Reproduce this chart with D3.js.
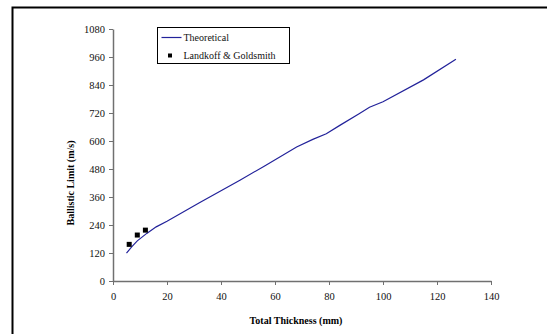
<!DOCTYPE html>
<html>
<head>
<meta charset="utf-8">
<script src="https://cdn.jsdelivr.net/npm/d3@7"></script>
<style>
  body { margin: 0; background: #fff; }
  svg { display: block; font-family: 'Liberation Serif', 'Times New Roman', serif; }
</style>
</head>
<body>
<div id="chart"></div>
<script>
// Theoretical curve: thickness (mm) and ballistic limit (m/s)
const theoThickness = [5, 7, 9, 12.5, 16, 20, 32, 47, 56, 68, 74, 79, 84, 91, 95, 100, 115, 127]
const theoLimit = [119, 147, 172, 204, 232, 256, 335, 432, 492, 574, 607, 631, 667, 716, 745, 768, 862, 950]

// Landkoff & Goldsmith experiments
const expThickness = [6, 9, 12]
const expLimit = [157, 197, 218]

const xTicks = [0, 20, 40, 60, 80, 100, 120, 140]
const yTicks = [0, 120, 240, 360, 480, 600, 720, 840, 960, 1080]

const seriesNames = ['Theoretical', 'Landkoff & Goldsmith']

const totalWidth = 547
const totalHeight = 334
const marginLeft = 113
const marginTop = 29
const plotWidth = 378
const plotHeight = 252
const axeColor = '#707070'
const lineColor = '#22229a'

const svg = d3.select('#chart')
  .append('svg')
  .attr('width', totalWidth)
  .attr('height', totalHeight)

// outer frame (clipped at right and bottom like the original)
svg.append('rect')
  .attr('x', 12.5)
  .attr('y', 7.5)
  .attr('width', 600)
  .attr('height', 400)
  .attr('fill', 'none')
  .attr('stroke', '#000')
  .attr('stroke-width', 2)

const chart = svg.append('g')
  .attr('transform', `translate(${marginLeft},${marginTop})`)

const x = d3.scaleLinear().domain([0, 140]).range([0, plotWidth])
const y = d3.scaleLinear().domain([0, 1080]).range([plotHeight, 0])

const xAxis = chart.append('g')
  .attr('transform', `translate(0,${plotHeight})`)
  .call(d3.axisBottom(x).tickValues(xTicks).tickFormat(d3.format('d')).tickSize(4).tickPadding(8).tickSizeOuter(0))

const yAxis = chart.append('g')
  .call(d3.axisLeft(y).tickValues(yTicks).tickFormat(d3.format('d')).tickSize(4).tickPadding(4).tickSizeOuter(0))

for (const ax of [xAxis, yAxis]) {
  ax.select('.domain').attr('stroke', axeColor).attr('stroke-width', 1.5)
  ax.selectAll('.tick line').attr('stroke', axeColor)
  ax.selectAll('.tick text')
    .attr('fill', '#111')
    .style('font-size', '10.5px')
    .style('font-family', "'Liberation Serif', serif")
}

// axis titles
chart.append('text')
  .attr('x', x(70) - 6)
  .attr('y', plotHeight + 43)
  .attr('text-anchor', 'middle')
  .style('font-size', '10px')
  .style('font-weight', 'bold')
  .text('Total Thickness (mm)')

chart.append('text')
  .attr('transform', `translate(${-39},${y(540) + 28}) rotate(-90)`)
  .attr('text-anchor', 'middle')
  .style('font-size', '10px')
  .style('font-weight', 'bold')
  .text('Ballistic Limit (m/s)')

// theoretical line
const theoData = d3.zip(theoThickness, theoLimit)
chart.append('path')
  .datum(theoData)
  .attr('fill', 'none')
  .attr('stroke', lineColor)
  .attr('stroke-width', 1.2)
  .attr('d', d3.line().x(d => x(d[0])).y(d => y(d[1])))

// experimental points
chart.append('g')
  .selectAll('rect')
  .data(d3.zip(expThickness, expLimit))
  .join('rect')
  .attr('x', d => x(d[0]) - 2.5)
  .attr('y', d => y(d[1]) - 2.5)
  .attr('width', 5)
  .attr('height', 5)
  .attr('fill', '#000')

// legend
const legend = svg.append('g').attr('transform', 'translate(157.5,27.5)')
legend.append('rect')
  .attr('width', 132)
  .attr('height', 36)
  .attr('fill', '#fff')
  .attr('stroke', '#000')
  .attr('stroke-width', 1)

legend.append('line')
  .attr('x1', 4).attr('x2', 24)
  .attr('y1', 10).attr('y2', 10)
  .attr('stroke', lineColor)
  .attr('stroke-width', 1.2)

legend.append('rect')
  .attr('x', 10.5).attr('y', 26)
  .attr('width', 4).attr('height', 4)
  .attr('fill', '#000')

legend.selectAll('text.label')
  .data(seriesNames)
  .join('text')
  .attr('class', 'label')
  .attr('x', 26)
  .attr('y', (d, i) => 13.5 + i * 18)
  .style('font-size', '10px')
  .attr('fill', '#111')
  .text(d => d)
</script>
</body>
</html>
